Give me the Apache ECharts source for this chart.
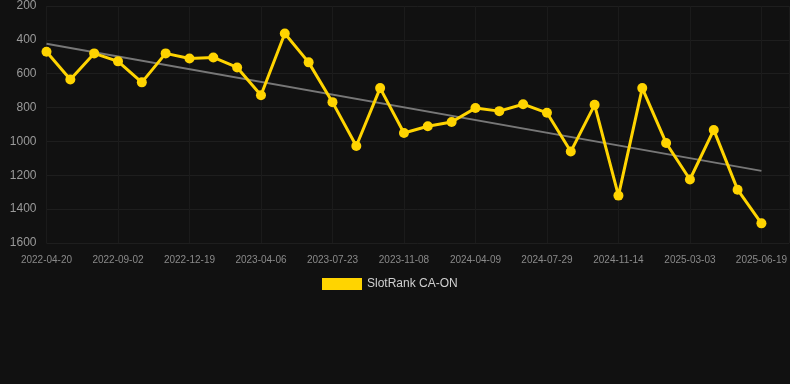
<!DOCTYPE html>
<html>
<head>
<meta charset="utf-8">
<script src="https://cdn.jsdelivr.net/npm/echarts@6/dist/echarts.min.js"></script>
<style>
html,body{margin:0;padding:0;background:#111111;}
#c{width:790px;height:384px;}
</style>
</head>
<body>
<div id="c"></div>
<script>
var categories = [
  '2022-04-20','2022-06-04','2022-07-19','2022-09-02','2022-10-08','2022-11-13',
  '2022-12-19','2023-01-24','2023-03-01','2023-04-06','2023-05-12','2023-06-17',
  '2023-07-23','2023-08-28','2023-10-03','2023-11-08','2023-12-29','2024-02-18',
  '2024-04-09','2024-05-16','2024-06-22','2024-07-29','2024-09-03','2024-10-09',
  '2024-11-14','2024-12-20','2025-01-25','2025-03-03','2025-04-08','2025-05-14',
  '2025-06-19'
];
var rankValues = [
  470, 634, 480, 527, 651, 480, 510, 504, 563, 727, 362,
  533, 768, 1027, 685, 950, 910, 885, 803, 821, 780, 831,
  1060, 784, 1320, 685, 1009, 1225, 932, 1285, 1484
];
var trendStart = 423;
var trendEnd = 1174;
var yTicks = [200, 400, 600, 800, 1000, 1200, 1400, 1600];

var seriesData = rankValues.map(function (v, i) { return [i, v]; });
var trendData = [[0, trendStart], [categories.length - 1, trendEnd]];

var chart = echarts.init(document.getElementById('c'), null, {renderer: 'canvas'});
chart.setOption({
  backgroundColor: '#111111',
  animation: false,
  grid: {left: 46.5, right: 0, top: 6, bottom: 141, containLabel: false},
  legend: {
    data: [{name: 'SlotRank CA-ON', icon: 'rect'}],
    left: 317,
    top: 273,
    itemWidth: 40,
    itemHeight: 12,
    itemGap: 6,
    textStyle: {color: '#d0d0d0', fontSize: 12, fontFamily: 'Liberation Sans, Arial, sans-serif'}
  },
  xAxis: {
    type: 'value',
    min: 0,
    max: 31.17,
    interval: 3,
    axisLine: {show: false},
    axisTick: {show: false},
    splitLine: {show: true, lineStyle: {color: '#1b1b1b', width: 1}},
    axisLabel: {
      color: '#8a8a8a',
      fontSize: 10,
      margin: 12,
      showMaxLabel: false,
      fontFamily: 'Liberation Sans, Arial, sans-serif',
      formatter: function (v) {
        var i = Math.round(v);
        if (Math.abs(v - i) > 1e-6) return '';
        return categories[i] || '';
      }
    }
  },
  yAxis: {
    type: 'value',
    inverse: true,
    min: yTicks[0],
    max: yTicks[yTicks.length - 1],
    interval: 200,
    axisLine: {show: false},
    axisTick: {show: false},
    splitLine: {show: true, lineStyle: {color: '#1e1e1e', width: 1}},
    axisLabel: {
      color: '#9a9a9a', fontSize: 12, margin: 10,
      fontFamily: 'Liberation Sans, Arial, sans-serif',
      formatter: function (v) { return String(v); }
    }
  },
  series: [
    {
      name: 'SlotRank CA-ON',
      type: 'line',
      data: seriesData,
      color: '#FFD400',
      lineStyle: {width: 3, color: '#FFD400'},
      itemStyle: {color: '#FFD400'},
      symbol: 'circle',
      symbolSize: 10,
      z: 3
    },
    {
      name: 'trend',
      type: 'line',
      data: trendData,
      symbol: 'none',
      lineStyle: {width: 2, color: '#777777'},
      z: 2
    }
  ]
});
</script>
</body>
</html>
